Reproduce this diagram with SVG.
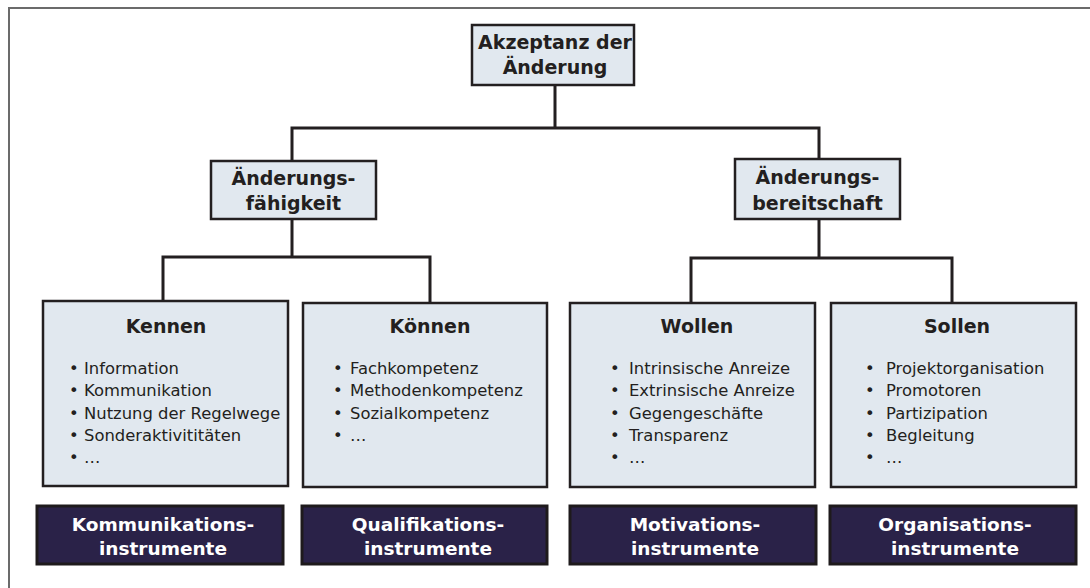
<svg xmlns="http://www.w3.org/2000/svg" width="1090" height="588" viewBox="0 0 1090 588">
<style>
.frame{fill:none;stroke:#6b6b6b;stroke-width:2}
.light{fill:#e1e8ef;stroke:#231f20;stroke-width:2.5}
.dark{fill:#2a2248;stroke:#1e1a1c;stroke-width:3}
.conn{fill:none;stroke:#231f20;stroke-width:3}
.h{font-family:"DejaVu Sans",Verdana,sans-serif;font-weight:bold;font-size:19px;fill:#231f20;text-anchor:middle}
.w{font-family:"DejaVu Sans",Verdana,sans-serif;font-weight:bold;font-size:18.5px;fill:#ffffff;text-anchor:middle}
.b{font-family:"DejaVu Sans",Verdana,sans-serif;font-size:16.4px;fill:#231f20}
</style>
<rect width="1090" height="588" fill="#ffffff"/>
<path class="frame" d="M9,592 V8 H1094"/>
<g id="connectors">
<path class="conn" d="M555,85 V128 M292,161 V128 H819 V159"/>
<path class="conn" d="M292,219 V257 M163,302 V257 H430 V303"/>
<path class="conn" d="M819,219 V258 M691,303 V258 H952 V303"/>
</g>
<g id="top">
<rect class="light" x="472" y="25" width="162" height="60"/>
<text class="h" x="555" y="49">Akzeptanz der</text>
<text class="h" x="555" y="74">Änderung</text>
</g>
<g id="faehigkeit">
<rect class="light" x="211" y="161" width="165" height="58"/>
<text class="h" x="293.5" y="185">Änderungs-</text>
<text class="h" x="293.5" y="210">fähigkeit</text>
</g>
<g id="bereitschaft">
<rect class="light" x="735" y="159" width="165" height="60"/>
<text class="h" x="817.5" y="184">Änderungs-</text>
<text class="h" x="817.5" y="210">bereitschaft</text>
</g>
<g id="kennen">
<rect class="light" x="43" y="301" width="245" height="185"/>
<text class="h" x="166" y="333">Kennen</text>
<text class="b"><tspan x="69" y="374">•</tspan><tspan x="84" y="374">Information</tspan><tspan x="69" y="396">•</tspan><tspan x="84" y="396">Kommunikation</tspan><tspan x="69" y="418.5">•</tspan><tspan x="84" y="418.5">Nutzung der Regelwege</tspan><tspan x="69" y="441">•</tspan><tspan x="84" y="441">Sonderaktivititäten</tspan><tspan x="69" y="463">•</tspan><tspan x="84" y="463">…</tspan></text>
</g>
<g id="koennen">
<rect class="light" x="303" y="303" width="244" height="184"/>
<text class="h" x="430" y="333">Können</text>
<text class="b"><tspan x="333" y="374">•</tspan><tspan x="350" y="374">Fachkompetenz</tspan><tspan x="333" y="396">•</tspan><tspan x="350" y="396">Methodenkompetenz</tspan><tspan x="333" y="418.5">•</tspan><tspan x="350" y="418.5">Sozialkompetenz</tspan><tspan x="333" y="441">•</tspan><tspan x="350" y="441">…</tspan></text>
</g>
<g id="wollen">
<rect class="light" x="570" y="303" width="245" height="184"/>
<text class="h" x="697" y="333">Wollen</text>
<text class="b"><tspan x="610" y="374">•</tspan><tspan x="629" y="374">Intrinsische Anreize</tspan><tspan x="610" y="396">•</tspan><tspan x="629" y="396">Extrinsische Anreize</tspan><tspan x="610" y="418.5">•</tspan><tspan x="629" y="418.5">Gegengeschäfte</tspan><tspan x="610" y="441">•</tspan><tspan x="629" y="441">Transparenz</tspan><tspan x="610" y="463">•</tspan><tspan x="629" y="463">…</tspan></text>
</g>
<g id="sollen">
<rect class="light" x="831" y="303" width="245" height="184"/>
<text class="h" x="957" y="333">Sollen</text>
<text class="b"><tspan x="865" y="374">•</tspan><tspan x="886" y="374">Projektorganisation</tspan><tspan x="865" y="396">•</tspan><tspan x="886" y="396">Promotoren</tspan><tspan x="865" y="418.5">•</tspan><tspan x="886" y="418.5">Partizipation</tspan><tspan x="865" y="441">•</tspan><tspan x="886" y="441">Begleitung</tspan><tspan x="865" y="463">•</tspan><tspan x="886" y="463">…</tspan></text>
</g>
<g id="kommunikation">
<rect class="dark" x="37" y="506" width="246" height="58"/>
<text class="w" x="163" y="531">Kommunikations-</text>
<text class="w" x="163" y="555">instrumente</text>
</g>
<g id="qualifikation">
<rect class="dark" x="302" y="506" width="245" height="58"/>
<text class="w" x="428" y="531">Qualifikations-</text>
<text class="w" x="428" y="555">instrumente</text>
</g>
<g id="motivation">
<rect class="dark" x="570" y="506" width="246" height="58"/>
<text class="w" x="695" y="531">Motivations-</text>
<text class="w" x="695" y="555">instrumente</text>
</g>
<g id="organisation">
<rect class="dark" x="830" y="506" width="246" height="58"/>
<text class="w" x="955" y="531">Organisations-</text>
<text class="w" x="955" y="555">instrumente</text>
</g>
</svg>
